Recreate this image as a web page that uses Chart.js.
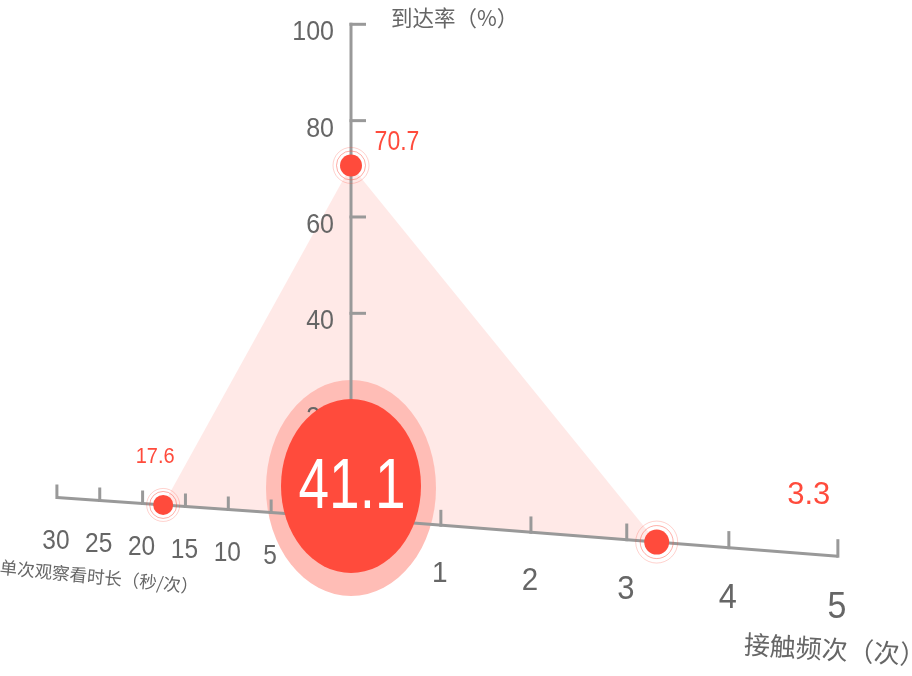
<!DOCTYPE html>
<html>
<head>
<meta charset="utf-8">
<script src="https://cdn.jsdelivr.net/npm/chart.js@4.4.1/dist/chart.umd.min.js"></script>
<style>
    html, body { margin: 0; padding: 0; background: #fff; }
    #wrap { width: 912px; height: 676px; }
</style>
</head>
<body>
<div id="wrap"><canvas id="myChart" width="912" height="676"></canvas></div>
<script>
// 数据
const reachTicks = [20, 40, 60, 80, 100];
const durationTicks = [5, 10, 15, 20, 25, 30];
const freqTicks = [1, 2, 3, 4, 5];
const reachValue = 70.7;     // 到达率 (%)
const durationValue = 17.6;  // 单次观察看时长 (秒/次)
const freqValue = 3.3;       // 接触频次 (次)
const scoreValue = 41.1;
const titles = ['到达率（%）', '单次观察看时长（秒/次）', '接触频次（次）'];

// 三根轴在画面里的摆放 (像素)
const axes = {
    reach:    { x0: 351, y0: 506,   dx: 0,     dy: -4.817, k: 0 },
    duration: { x0: 314, y0: 515.5, dx: -8.57, dy: -0.6,   k: 0 },
    freq:     { x0: 356, y0: 518.6, dx: 82.4,  dy: 6.43,   k: 0.029 }
};
const bubbleCenter = { x: 351, y: 487 };

const red = '#ff4b3c';
const axisColor = '#999';
const labelColor = '#666';
const latin = '"Liberation Sans", Arial, sans-serif';
const cjk = '"Noto Sans CJK SC", sans-serif';

function project(name, v) {
    const a = axes[name];
    const t = v / (1 - a.k * v);
    return { x: a.x0 + a.dx * t, y: a.y0 + a.dy * t };
}

const points = [
    project('reach', reachValue),
    project('duration', durationValue),
    project('freq', freqValue)
];

function px(chart, p) {
    return { x: chart.scales.x.getPixelForValue(p.x), y: chart.scales.y.getPixelForValue(p.y) };
}

// 文字: 以 (x, y) 为中心, sy 为竖向拉伸
function text(c, str, x, y, o) {
    c.save();
    c.translate(x, y);
    if (o.rot) c.rotate(o.rot);
    c.scale(1, o.sy || 1);
    c.font = o.size + 'px ' + (o.family || latin);
    c.fillStyle = o.color || labelColor;
    c.textAlign = o.align || 'center';
    if (o.family === cjk) {
        c.textBaseline = 'middle';
        c.fillText(str, 0, 0);
    } else {
        c.textBaseline = 'alphabetic';
        c.fillText(str, 0, o.size * 0.358);
    }
    c.restore();
}

function line(c, a, b) {
    c.beginPath();
    c.moveTo(a.x, a.y);
    c.lineTo(b.x, b.y);
    c.stroke();
}

const scene = {
    id: 'scene',
    beforeDatasetsDraw(chart) {
        const c = chart.ctx;
        const pts = chart.getDatasetMeta(0).data;
        const b = px(chart, bubbleCenter);

        // 三角区域
        c.save();
        c.beginPath();
        c.moveTo(pts[0].x, pts[0].y);
        c.lineTo(pts[1].x, pts[1].y);
        c.lineTo(pts[2].x, pts[2].y);
        c.closePath();
        c.fillStyle = 'rgba(255, 76, 60, 0.12)';
        c.fill();

        // 外圈
        c.beginPath();
        c.ellipse(b.x, b.y + 1, 85, 108, 0, 0, Math.PI * 2);
        c.fillStyle = '#ffbdb6';
        c.fill();

        // 轴线
        c.strokeStyle = axisColor;
        c.lineWidth = 3;
        c.lineCap = 'butt';
        c.lineJoin = 'round';
        const top = px(chart, project('reach', 100));
        const dEnd = px(chart, project('duration', 30));
        const d0 = px(chart, project('duration', 0));
        const f0 = px(chart, project('freq', 0));
        const fEnd = px(chart, project('freq', 5));
        line(c, { x: top.x, y: top.y - 1.5 }, { x: top.x, y: f0.y });
        c.beginPath();
        c.moveTo(dEnd.x, dEnd.y);
        c.lineTo(d0.x, d0.y);
        c.lineTo(f0.x, f0.y);
        c.lineTo(fEnd.x, fEnd.y);
        c.stroke();

        // 刻度 + 标签
        reachTicks.forEach(v => {
            const p = px(chart, project('reach', v));
            line(c, { x: p.x - 1.5, y: p.y }, { x: p.x + 15, y: p.y });
            text(c, String(v), p.x - 17, p.y + 6, { size: 25, sy: 1.12, align: 'right' });
        });
        durationTicks.forEach(v => {
            const p = px(chart, project('duration', v));
            line(c, { x: p.x, y: p.y + 1.5 }, { x: p.x, y: p.y - 13 });
            text(c, String(v), p.x - 1, p.y + 41, { size: 24.5, sy: 1.15 });
        });
        freqTicks.forEach(v => {
            const p = px(chart, project('freq', v));
            line(c, { x: p.x, y: p.y + 1.5 }, { x: p.x, y: p.y - 15 - 0.4 * v });
            text(c, String(v), p.x - 1, p.y + 45 + 0.8 * v, { size: 26.5 + 1.5 * v, sy: 1.08 });
        });

        // 中心气泡
        c.beginPath();
        c.ellipse(b.x, b.y - 1, 70, 87, 0, 0, Math.PI * 2);
        c.fillStyle = red;
        c.fill();
        text(c, String(scoreValue), b.x + 1, b.y - 4, { size: 55, sy: 1.28, color: '#fff' });
        c.restore();
    },
    afterDatasetsDraw(chart) {
        const c = chart.ctx;
        const pts = chart.getDatasetMeta(0).data;
        text(c, String(reachValue), pts[0].x + 46, pts[0].y - 25, { size: 23, sy: 1.2, color: red });
        text(c, String(durationValue), pts[1].x - 8, pts[1].y - 50, { size: 20, sy: 1.1, color: red });
        text(c, String(freqValue), pts[2].x + 152, pts[2].y - 49, { size: 31, color: red });

        text(c, titles[0], 391, 18, { size: 21.5, family: cjk, align: 'left' });
        text(c, titles[1], 0, 567, { size: 17.5, family: cjk, align: 'left', rot: 0.1 });
        text(c, titles[2], 744, 644, { size: 26, family: cjk, align: 'left', rot: 0.06 });
    }
};

new Chart(document.getElementById('myChart'), {
    type: 'scatter',
    data: {
        datasets: [{
            data: points,
            pointRadius: [11, 10, 12.5],
            backgroundColor: red,
            borderWidth: 0,
            clip: false
        },
        {
            data: points,
            pointRadius: [14.5, 13.5, 16.5],
            backgroundColor: 'rgba(0, 0, 0, 0)',
            borderColor: 'rgba(255, 76, 60, 0.45)',
            borderWidth: 1,
            clip: false
        },
        {
            data: points,
            pointRadius: [18, 16.5, 21],
            backgroundColor: 'rgba(0, 0, 0, 0)',
            borderColor: 'rgba(255, 76, 60, 0.25)',
            borderWidth: 1,
            clip: false
        }]
    },
    options: {
        responsive: false,
        animation: false,
        events: [],
        layout: { padding: 0, autoPadding: false },
        plugins: {
            legend: { display: false },
            tooltip: { enabled: false }
        },
        scales: {
            x: { type: 'linear', min: 0, max: 912, display: false },
            y: { type: 'linear', min: 0, max: 676, reverse: true, display: false }
        }
    },
    plugins: [scene]
});
</script>
</body>
</html>
